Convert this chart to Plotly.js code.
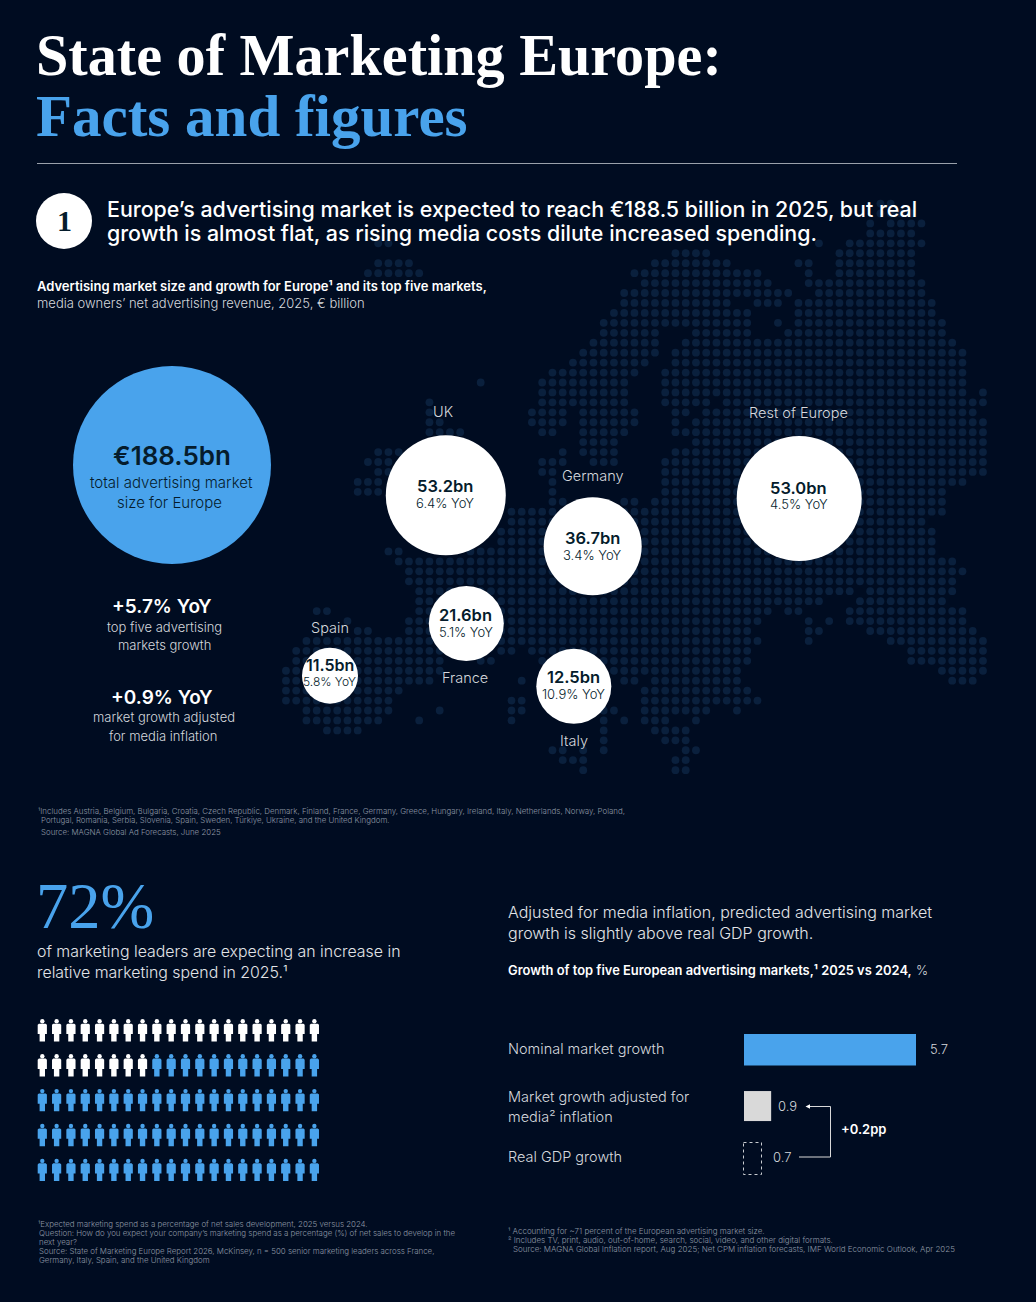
<!DOCTYPE html>
<html><head><meta charset="utf-8">
<script src="https://cdn.plot.ly/plotly-3.0.1.min.js"></script>
<style>html,body{margin:0;padding:0;background:#000c21}#chart{width:1036px;height:1302px}</style>
</head><body><div id="chart"></div>
<script>
// ---------- data ----------
const marketNames = ['Total','UK','Rest of Europe','Germany','France','Italy','Spain'];
const marketSizeBn = [188.5,53.2,53.0,36.7,21.6,12.5,11.5];
const marketYoY = [null,6.4,4.5,3.4,5.1,10.9,5.8];
const growthCategories = ['Nominal market growth','Market growth adjusted for media inflation','Real GDP growth'];
const growthValues = [5.7,0.9,0.7];
const gapPp = 0.2;
const leadersExpectingIncrease = 72;
const iconCount = 100;
// dotted map: for each map row, runs of occupied grid columns
const mapFirstRow = -31;
const mapRowRuns = [
[[19,20]],[[19,22]],[[18,18],[20,23]],[[18,22]],
[[-30,-29],[13,13],[16,23]],[[-1,2],[15,22]],[[-30,-27],[-3,4],[11,12],[15,22]],
[[-31,-26],[-5,7],[12,12],[15,22]],[[-4,8],[12,23]],[[-6,10],[13,23]],
[[-6,4],[7,9],[11,24]],[[-7,6],[11,24]],[[-8,6],[9,9],[11,25]],[[-8,-3],[1,6],[10,25]],
[[-9,-3],[0,26]],[[-10,-3],[-1,27]],[[-11,-4],[-1,27]],[[-13,-5],[-2,27]],
[[-20,-20],[-14,-6],[-2,27]],[[-14,-6],[-2,27],[29,29]],[[-25,-25],[-14,-6],[-2,2],[4,29]],
[[-25,-25],[-15,-12],[-10,-5],[-1,0],[2,28]],[[-25,-24],[-15,-12],[-10,-5],[-1,-1],[1,29]],
[[-25,-22],[-14,-13],[-10,-6],[-1,29]],[[-10,-7],[1,29]],[[-30,-28],[-12,-12],[-10,-7],[-1,29]],
[[-31,-29],[-14,-12],[-9,-7],[-2,29]],[[-30,-29],[-14,-13],[-2,29]],[[-32,-30],[-13,-13],[-2,27]],
[[-32,-30],[-13,-13],[-2,25]],[[-13,-12],[-6,-5],[-3,25]],[[-17,25]],[[-17,23]],[[-18,24]],[[-18,24]],
[[-29,-28],[-21,24]],[[-28,26]],[[-27,27]],[[-27,26]],[[-26,16],[18,26]],[[-26,13],[17,25]],
[[-36,-35],[-26,8],[10,11],[16,27]],[[-33,-33],[-27,7],[12,12],[14,14],[16,27]],
[[-32,-31],[-27,6],[12,13],[18,28]],[[-37,-25],[-18,7],[12,12],[20,29]],
[[-38,-24],[-18,-17],[-15,6],[22,29]],[[-38,-24],[-20,-19],[-14,6],[22,29]],
[[-39,-24],[-7,5],[25,29]],[[-39,-25],[-16,-16],[-6,-5],[-3,5],[26,28]],
[[-39,-28],[-4,6]],[[-39,-29],[-17,-16],[-4,7]],
[[-37,-29],[-24,-24],[-17,-16],[-8,-7],[-4,2],[5,5]],
[[-37,-30],[-26,-26],[-17,-17],[-8,-8],[-6,-6],[-4,-2],[1,1]],
[[-35,-32],[-8,-8],[-3,0]],[[-8,-8],[-2,0]],[[-13,-12],[-10,-10],[-8,-8],[0,1]],
[[-12,-10],[-1,0]],[[-10,-10],[-1,0]]
];

// ---------- style and layout constants ----------
const W=1036,H=1302;
const BG='#000c21',BLUE='#49a3ec',DOT='#0a203d',SANS='Inter, sans-serif',SERIF='"Liberation Serif", serif',INK='#051c2c';
const bubblePlace=[[172,465,198],[445.8,495.3,120],[799.2,498.5,125],[592.7,546.3,98],[466.3,623.5,75],[573.8,686.3,75],[330,675.7,56]];
const bubbleLabelY=[0,486,488,538,615,677,665];
const px=x=>x/W, py=y=>1-y/H;
const ann=[];
function T(x,y,text,size,o={}){
  const yy=size<9?y:y-1;
  ann.push({xref:'paper',yref:'paper',x:px(x),y:py(yy),text,showarrow:false,borderpad:0,borderwidth:0,xanchor:o.anchor||'left',yanchor:'middle',
    font:{family:o.family||SANS,size,color:o.color||'#fff',weight:o.weight||300}});
}
// ---------- map ----------
const mapX=[],mapY=[];
mapRowRuns.forEach((runs,i)=>runs.forEach(([a,b])=>{for(let c=a;c<=b;c++){mapX.push(c);mapY.push(mapFirstRow+i);}}));
const mapTrace={type:'scatter',mode:'markers',x:mapX,y:mapY,xaxis:'x',yaxis:'y',marker:{size:7.8,color:DOT,line:{width:0}},hoverinfo:'skip'};
// ---------- bubbles ----------
const bubbleTrace={type:'scatter',mode:'markers',xaxis:'x2',yaxis:'y2',hoverinfo:'skip',
  x:bubblePlace.map(b=>b[0]),y:bubblePlace.map(b=>b[1]),
  text:marketNames,
  marker:{size:bubblePlace.map(b=>b[2]),sizemode:'diameter',color:marketNames.map((n,i)=>i?'#ffffff':BLUE),line:{width:0},opacity:1}};
// ---------- pictogram ----------
function person(cx,top){
  return [[cx-4.6,top+5.6],[cx-3.4,top+4.5],[cx+3.4,top+4.5],[cx+4.6,top+5.6],[cx+4.6,top+14.8],[cx+2.7,top+14.8],
          [cx+2.7,top+22.3],[cx-2.7,top+22.3],[cx-2.7,top+14.8],[cx-4.6,top+14.8],[cx-4.6,top+5.6],[null,null]];
}
const notCount=iconCount-leadersExpectingIncrease;
const iconTraces=[[],[]], heads=[[],[]];
for(let i=0;i<iconCount;i++){
  const col=i%20,row=Math.floor(i/20),cx=42.3+14.32*col,top=1019.2+34.9*row,g=i<notCount?0:1;
  iconTraces[g].push(...person(cx,top)); heads[g].push([cx,top+2.1]);
}
const pictoTraces=[0,1].flatMap(g=>{
  const col=g?BLUE:'#ffffff';
  return [{type:'scatter',mode:'lines',fill:'toself',fillcolor:col,line:{width:0,color:col},xaxis:'x2',yaxis:'y2',hoverinfo:'skip',
    x:iconTraces[g].map(p=>p[0]),y:iconTraces[g].map(p=>p[1])},
   {type:'scatter',mode:'markers',marker:{size:4.4,color:col,line:{width:0}},xaxis:'x2',yaxis:'y2',hoverinfo:'skip',
    x:heads[g].map(p=>p[0]),y:heads[g].map(p=>p[1])}];
});
// ---------- bars ----------
const barTrace={type:'bar',orientation:'h',y:growthCategories,x:growthValues,xaxis:'x3',yaxis:'y3',hoverinfo:'skip',
  marker:{color:[BLUE,'#d9d9d9','rgba(0,0,0,0)'],line:{width:0}},
  width:[0.583,0.556,0.593],offset:[-0.296,-0.24,-0.296]};

// ---------- text ----------
T(36,56.5,'State of Marketing Europe:',58.2,{family:SERIF,weight:700});
T(36,117,'Facts and figures',59,{family:SERIF,weight:700,color:BLUE});
T(64,221.5,'1',30,{family:SERIF,weight:700,color:INK,anchor:'center'});
T(107,209.5,'Europe’s advertising market is expected to reach €188.5 billion in 2025, but real',21.4,{weight:500});
T(107,234,'growth is almost flat, as rising media costs dilute increased spending.',21.4,{weight:500});
T(37,286.5,'Advertising market size and growth for Europe¹ and its top five markets,',13,{weight:600});
T(37,303.5,'media owners’ net advertising revenue, 2025, € billion',13,{color:'#d5d8dd'});
T(172,456,'€'+marketSizeBn[0].toFixed(1)+'bn',26,{weight:600,color:INK,anchor:'center'});
T(171,483.5,'total advertising market',15,{color:INK,anchor:'center'});
T(169,503.5,'size for Europe',15,{color:INK,anchor:'center'});
T(162,607,'+5.7% YoY',19,{weight:600,anchor:'center'});
T(164,627.5,'top five advertising',13,{color:'#d5d8dd',anchor:'center'});
T(164,645.5,'markets growth',13,{color:'#d5d8dd',anchor:'center'});
T(162,698,'+0.9% YoY',19,{weight:600,anchor:'center'});
T(164,718.5,'market growth adjusted',13,{color:'#d5d8dd',anchor:'center'});
T(163,736.5,'for media inflation',13,{color:'#d5d8dd',anchor:'center'});
[[443,412,'UK'],[798.5,413.5,'Rest of Europe'],[593,476.5,'Germany'],[330,628,'Spain'],[465,678.5,'France'],[574,741,'Italy']]
  .forEach(l=>T(l[0],l[1],l[2],14.5,{color:'#d5d8dd',anchor:'center'}));
marketNames.forEach((n,i)=>{ if(!i) return;
  const small=n==='Spain', big=small?16:16.5, s=small?12:13;
  T(bubblePlace[i][0]-0.5,bubbleLabelY[i]+0.5,marketSizeBn[i].toFixed(1)+'bn',big,{weight:600,color:INK,anchor:'center'});
  T(bubblePlace[i][0]-0.5,bubbleLabelY[i]+17.5,marketYoY[i].toFixed(1)+'% YoY',s,{color:INK,anchor:'center'});
});
const FN='#8f98a6';
T(38,811,'¹Includes Austria, Belgium, Bulgaria, Croatia, Czech Republic, Denmark, Finland, France, Germany, Greece, Hungary, Ireland, Italy, Netherlands, Norway, Poland,',7.9,{color:FN});
T(41,820,'Portugal, Romania, Serbia, Slovenia, Spain, Sweden, Türkiye, Ukraine, and the United Kingdom.',7.9,{color:FN});
T(41,832,'Source: MAGNA Global Ad Forecasts, June 2025',7.9,{color:FN});
T(36,907,leadersExpectingIncrease+'%',64.5,{family:SERIF,color:BLUE,weight:400});
T(37,952,'of marketing leaders are expecting an increase in',15.9,{color:'#e2e4e8'});
T(37,973,'relative marketing spend in 2025.¹',15.9,{color:'#e2e4e8'});
T(508,912.5,'Adjusted for media inflation, predicted advertising market',16,{color:'#e2e4e8'});
T(508,933.5,'growth is slightly above real GDP growth.',16,{color:'#e2e4e8'});
T(508,971,'Growth of top five European advertising markets,¹ 2025 vs 2024,',12.9,{weight:600});
T(916,971,'%',12.9,{weight:300,color:'#d5d8dd'});
T(508,1049.5,growthCategories[0],14.5,{color:'#d5d8dd'});
T(508,1097.5,'Market growth adjusted for',14.5,{color:'#d5d8dd'});
T(508,1117.5,'media² inflation',14.5,{color:'#d5d8dd'});
T(508,1157.5,growthCategories[2],14.5,{color:'#d5d8dd'});
T(841,1129.5,'+'+gapPp+'pp',13,{weight:600});
// value labels anchored on the bar ends
growthValues.forEach((v,i)=>ann.push({xref:'x3',yref:'y3',x:v,y:growthCategories[i],text:String(v),showarrow:false,borderpad:0,borderwidth:0,
  xanchor:'left',yanchor:'middle',xshift:[14,7,8][i],yshift:[1,-2,1][i],font:{family:SANS,size:13,color:'#d5d8dd',weight:300}}));
T(38,1224,'¹Expected marketing spend as a percentage of net sales development, 2025 versus 2024.',7.9,{color:FN});
T(39,1233,'Question: How do you expect your company’s marketing spend as a percentage (%) of net sales to develop in the',7.9,{color:FN});
T(39,1242,'next year?',7.9,{color:FN});
T(39,1251,'Source: State of Marketing Europe Report 2026, McKinsey, n = 500 senior marketing leaders across France,',7.9,{color:FN});
T(39,1260,'Germany, Italy, Spain, and the United Kingdom',7.9,{color:FN});
T(508,1231,'¹ Accounting for ~71 percent of the European advertising market size.',8,{color:FN});
T(508,1240,'² Includes TV, print, audio, out-of-home, search, social, video, and other digital formats.',8,{color:FN});
T(513,1249,'Source: MAGNA Global Inflation report, Aug 2025; Net CPM inflation forecasts, IMF World Economic Outlook, Apr 2025',8,{color:FN});

// ---------- layout ----------
const hidden={visible:false,fixedrange:true};
const layout={
  width:W,height:H,margin:{l:0,r:0,t:0,b:0},paper_bgcolor:BG,plot_bgcolor:'rgba(0,0,0,0)',showlegend:false,hovermode:false,
  xaxis:{...hidden,domain:[0,1],range:[-685.7/10.25,(W-685.7)/10.25]},
  yaxis:{...hidden,domain:[0,1],range:[(H-511.7)/9.94,-511.7/9.94]},
  xaxis2:{...hidden,domain:[0,1],range:[0,W]},
  yaxis2:{...hidden,domain:[0,1],range:[H,0]},
  xaxis3:{...hidden,domain:[px(744),px(916)],range:[0,growthValues[0]]},
  yaxis3:{...hidden,domain:[py(1185),py(1023)],type:'category',categoryorder:'array',categoryarray:growthCategories,range:[2.5,-0.5]},
  annotations:ann,
  shapes:[
    {type:'line',xref:'paper',yref:'paper',x0:px(37),x1:px(957),y0:py(163.5),y1:py(163.5),line:{color:'#9aa1ab',width:1}},
    {type:'circle',xref:'paper',yref:'paper',x0:px(36),x1:px(92),y0:py(193),y1:py(249),fillcolor:'#fff',line:{width:0}},
    {type:'rect',xref:'x2',yref:'y2',x0:743.5,x1:761.5,y0:1142.5,y1:1174.5,fillcolor:'rgba(0,0,0,0)',line:{color:'#c9ccd1',width:1,dash:'dot'}},
    {type:'path',xref:'x2',yref:'y2',path:'M 799 1157 L 830.5 1157 L 830.5 1106.5 L 808 1106.5',line:{color:'#d9d9d9',width:1}},
    {type:'path',xref:'x2',yref:'y2',path:'M 805.5 1106.5 L 810 1104.3 L 810 1108.7 Z',fillcolor:'#fff',line:{width:0}}
  ]
};
Plotly.newPlot('chart',[mapTrace,bubbleTrace,...pictoTraces,barTrace],layout,{displayModeBar:false,staticPlot:true});
</script></body></html>
